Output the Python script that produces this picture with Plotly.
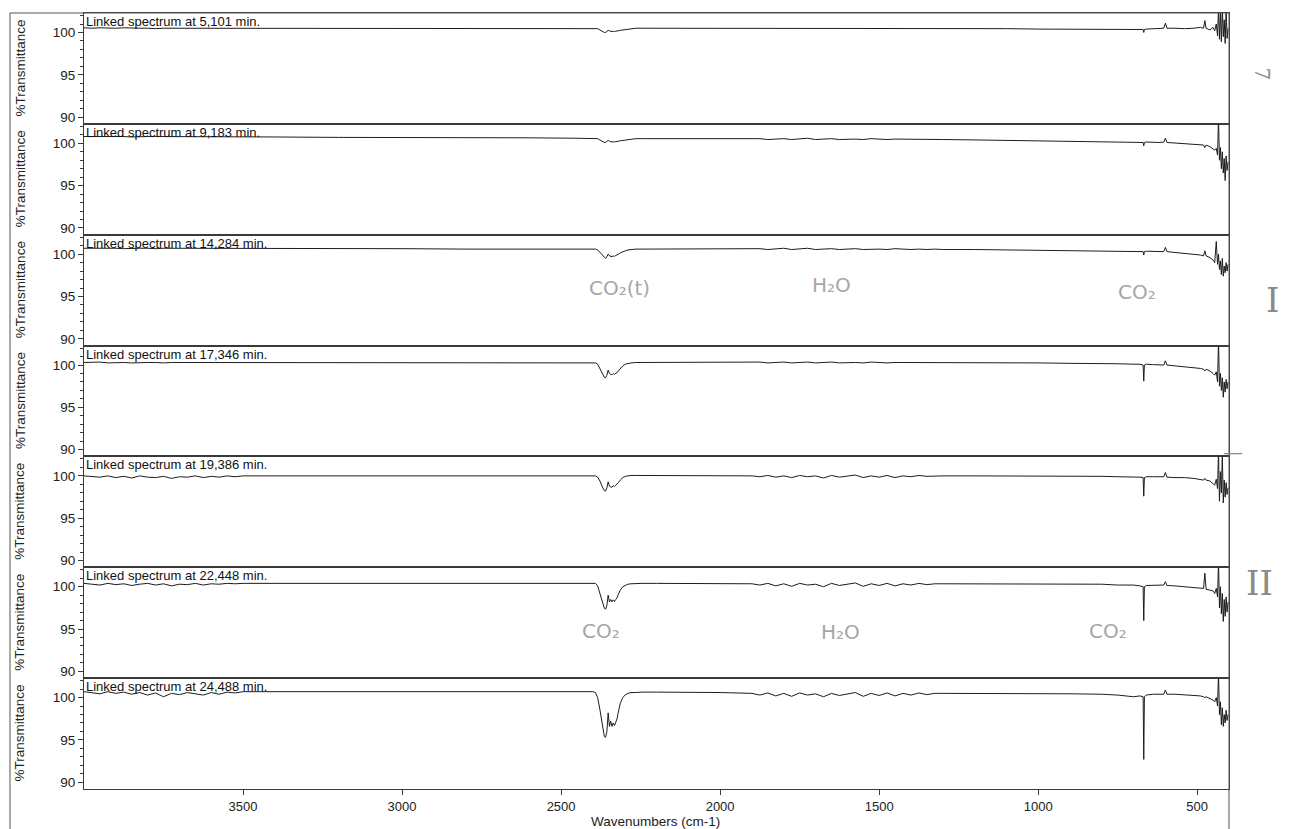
import plotly.graph_objects as go
from plotly.subplots import make_subplots

# ---------------- data ----------------
wavenumbers = [
    4000, 3975, 3950, 3925, 3900, 3875, 3850, 3825, 3800, 3775, 3750, 3725, 3700, 3675, 3650, 3625, 3600, 3575, 3550, 3525, 3500,
    3400, 3200, 3000, 2800, 2600, 2450, 2400,
    2392, 2385, 2378, 2370, 2364, 2360, 2356, 2352, 2348, 2344, 2340, 2336, 2332, 2328, 2324, 2320, 2314, 2306, 2298, 2290, 2280, 2265, 2245,
    2200, 2100, 2000, 1950,
    1900, 1875, 1850, 1825, 1800, 1775, 1750, 1725, 1700, 1675, 1650, 1625, 1600, 1575, 1550, 1525, 1500, 1475, 1450, 1425, 1400, 1375, 1350, 1325, 1300,
    1200, 1100, 1000, 900, 800, 750, 700, 680, 670, 668, 666, 660, 640, 620, 605, 600, 595, 570, 540, 510, 490, 480, 476, 472, 460, 450,
    445, 440, 436, 433, 430, 427, 424, 421, 418, 415, 412, 409, 406, 403,
]

spectrum_5_101 = [
    100.55, 100.5, 100.55, 100.5, 100.5, 100.55, 100.5, 100.5, 100.5, 100.45, 100.5, 100.5, 100.5, 100.5, 100.45, 100.5, 100.5, 100.5, 100.5, 100.5, 100.5,
    100.5, 100.5, 100.5, 100.5, 100.5, 100.5, 100.5,
    100.5, 100.45, 100.3, 100.1, 100.0, 100.0, 100.1, 100.25, 100.2, 100.15, 100.1, 100.15, 100.1, 100.15, 100.15, 100.2, 100.25, 100.3, 100.35, 100.4, 100.45, 100.5, 100.5,
    100.5, 100.5, 100.5, 100.5,
    100.5, 100.53, 100.5, 100.47, 100.53, 100.5, 100.47, 100.53, 100.5, 100.47, 100.53, 100.5, 100.47, 100.5, 100.53, 100.47, 100.5, 100.47, 100.53, 100.5, 100.47, 100.5, 100.5, 100.47, 100.5,
    100.45, 100.45, 100.4, 100.4, 100.4, 100.4, 100.4, 100.4, 100.35, 100.0, 100.35, 100.4, 100.45, 100.45, 100.5, 101.1, 100.5, 100.5, 100.45, 100.5, 100.6, 100.5, 101.4, 100.5, 100.3, 100.6,
    100.2, 101.0, 99.6, 103.0, 99.2, 102.5, 98.9, 103.0, 99.5, 101.5, 98.7, 102.8, 99.3, 100.5,
]

spectrum_9_183 = [
    100.8, 100.8, 100.85, 100.8, 100.8, 100.8, 100.75, 100.8, 100.8, 100.8, 100.8, 100.75, 100.8, 100.8, 100.8, 100.75, 100.8, 100.8, 100.75, 100.75, 100.75,
    100.75, 100.7, 100.7, 100.65, 100.65, 100.6, 100.6,
    100.6, 100.55, 100.4, 100.2, 100.1, 100.1, 100.2, 100.35, 100.25, 100.2, 100.15, 100.2, 100.15, 100.2, 100.2, 100.25, 100.3, 100.35, 100.4, 100.45, 100.5, 100.55, 100.55,
    100.55, 100.55, 100.5, 100.5,
    100.5, 100.55, 100.45, 100.5, 100.55, 100.45, 100.5, 100.6, 100.45, 100.5, 100.55, 100.45, 100.5, 100.5, 100.45, 100.55, 100.5, 100.45, 100.5, 100.5, 100.45, 100.5, 100.45, 100.45, 100.45,
    100.4, 100.35, 100.3, 100.25, 100.2, 100.2, 100.15, 100.15, 100.1, 99.7, 100.1, 100.15, 100.1, 100.1, 100.15, 100.6, 100.1, 100.05, 100.0, 99.9, 99.85, 99.8, 99.5, 99.8, 99.6, 99.4,
    99.2, 99.4, 98.6, 103.0, 98.0, 99.5, 97.0, 99.0, 96.5, 98.2, 95.6, 98.5, 96.8, 97.8,
]

spectrum_14_284 = [
    100.7, 100.7, 100.75, 100.7, 100.7, 100.65, 100.7, 100.7, 100.7, 100.65, 100.7, 100.7, 100.65, 100.7, 100.7, 100.7, 100.65, 100.7, 100.7, 100.7, 100.7,
    100.7, 100.65, 100.65, 100.6, 100.6, 100.6, 100.6,
    100.6, 100.5, 100.2, 99.8, 99.55, 99.5, 99.7, 100.0, 99.8, 99.75, 99.7, 99.8, 99.75, 99.85, 99.9, 100.0, 100.15, 100.3, 100.4, 100.5, 100.55, 100.6, 100.6,
    100.6, 100.6, 100.6, 100.6,
    100.6, 100.65, 100.55, 100.6, 100.7, 100.55, 100.6, 100.7, 100.55, 100.6, 100.65, 100.55, 100.6, 100.65, 100.55, 100.6, 100.6, 100.55, 100.65, 100.6, 100.55, 100.6, 100.55, 100.6, 100.55,
    100.55, 100.5, 100.5, 100.45, 100.4, 100.4, 100.35, 100.35, 100.3, 99.9, 100.3, 100.35, 100.3, 100.3, 100.3, 100.8, 100.3, 100.2, 100.1, 100.0, 99.9, 99.8, 100.4, 99.8, 99.6, 99.3,
    99.0, 101.5, 98.8, 100.0, 98.2, 99.2, 97.6, 99.5, 97.4, 98.6, 97.8, 99.0, 98.0, 98.8,
]

spectrum_17_346 = [
    100.3, 100.3, 100.35, 100.25, 100.3, 100.3, 100.25, 100.3, 100.3, 100.3, 100.25, 100.3, 100.3, 100.3, 100.25, 100.3, 100.3, 100.3, 100.3, 100.3, 100.3,
    100.3, 100.3, 100.3, 100.3, 100.3, 100.3, 100.3,
    100.25, 100.1, 99.6, 98.9, 98.55, 98.5, 98.8, 99.4, 99.0, 98.9, 98.85, 99.0, 98.9, 99.05, 99.1, 99.3, 99.6, 99.9, 100.1, 100.2, 100.25, 100.3, 100.3,
    100.3, 100.3, 100.3, 100.3,
    100.3, 100.35, 100.25, 100.3, 100.35, 100.25, 100.3, 100.35, 100.25, 100.3, 100.35, 100.25, 100.3, 100.3, 100.25, 100.35, 100.3, 100.25, 100.3, 100.3, 100.25, 100.3, 100.25, 100.3, 100.3,
    100.3, 100.3, 100.25, 100.2, 100.2, 100.15, 100.1, 100.1, 100.0, 98.1, 100.0, 100.1, 100.05, 100.0, 100.0, 100.5, 100.0, 99.9, 99.8, 99.7, 99.6, 99.5, 99.3, 99.5, 99.3, 99.0,
    98.8, 99.2, 98.0, 103.0, 97.5, 99.0, 97.0, 98.5, 96.2, 98.0, 96.8, 98.3, 97.2, 98.0,
]

spectrum_19_386 = [
    100.0, 99.95, 99.85, 100.0, 99.8, 99.95, 99.75, 100.0, 99.85, 99.8, 99.95, 99.7, 99.9, 99.85, 100.0, 99.8, 99.95, 99.85, 100.0, 99.9, 100.0,
    100.0, 100.0, 100.05, 100.05, 100.05, 100.05, 100.05,
    100.0, 99.85, 99.4, 98.7, 98.25, 98.2, 98.6, 99.3, 98.8, 98.7, 98.65, 98.85, 98.75, 98.9, 99.0, 99.2, 99.5, 99.8, 99.95, 100.0, 100.05, 100.05, 100.05,
    100.05, 100.05, 100.05, 100.0,
    100.0, 99.9, 100.05, 99.85, 100.0, 99.8, 100.05, 99.9, 100.0, 99.75, 100.05, 99.85, 99.95, 100.1, 99.8, 100.0, 99.85, 100.05, 99.8, 100.0, 99.9, 100.05, 99.95, 100.0, 100.0,
    100.0, 100.0, 100.0, 99.95, 99.95, 99.9, 99.9, 99.85, 99.8, 97.6, 99.8, 99.9, 99.9, 99.85, 99.9, 100.4, 99.85, 99.8, 99.8, 99.7, 99.6, 99.5, 99.7, 99.5, 99.4, 99.1,
    98.9, 99.6, 98.5, 103.0, 97.0, 100.5, 98.0, 102.5, 96.8, 99.5, 97.5, 99.2, 97.8, 98.6,
]

spectrum_22_448 = [
    100.4, 100.3, 100.2, 100.4, 100.25, 100.35, 100.15, 100.3, 100.4, 100.2, 100.35, 100.1, 100.3, 100.25, 100.4, 100.2, 100.35, 100.3, 100.4, 100.35, 100.4,
    100.4, 100.4, 100.45, 100.45, 100.45, 100.45, 100.45,
    100.4, 100.1, 99.2, 98.0, 97.45, 97.35, 97.8, 99.0, 98.2, 98.5, 98.2, 98.45, 98.25, 98.5, 98.7, 99.1, 99.6, 100.0, 100.2, 100.3, 100.35, 100.4, 100.4,
    100.4, 100.4, 100.4, 100.35,
    100.35, 100.2, 100.4, 100.1, 100.35, 100.05, 100.4, 100.2, 100.3, 100.0, 100.4, 100.15, 100.3, 100.45, 100.05, 100.35, 100.15, 100.4, 100.1, 100.35, 100.2, 100.4, 100.25, 100.35, 100.35,
    100.35, 100.35, 100.35, 100.3, 100.3, 100.2, 100.2, 100.1, 100.0, 96.0, 100.0, 100.15, 100.2, 100.2, 100.2, 100.6, 100.15, 100.1, 100.0, 99.9, 99.85, 99.8, 101.6, 99.7, 99.6, 99.5,
    99.2, 99.8, 98.8, 103.0, 97.5, 100.0, 96.8, 99.2, 95.9, 98.5, 96.5, 98.8, 97.0, 98.2,
]

spectrum_24_488 = [
    100.7, 100.6, 100.45, 100.7, 100.5, 100.65, 100.4, 100.6, 100.3, 100.55, 100.1, 100.5, 100.35, 100.6, 100.45, 100.3, 100.6, 100.4, 100.65, 100.55, 100.7,
    100.7, 100.7, 100.7, 100.7, 100.7, 100.7, 100.7,
    100.6, 100.0, 98.6, 96.6, 95.4, 95.3, 96.0, 98.2, 96.6, 97.2, 96.6, 97.0, 96.7, 97.1, 97.5, 98.3, 99.3, 100.0, 100.35, 100.5, 100.6, 100.6, 100.65,
    100.65, 100.65, 100.6, 100.55,
    100.5, 100.3, 100.55, 100.2, 100.5, 100.15, 100.55, 100.3, 100.45, 100.1, 100.5, 100.25, 100.45, 100.6, 100.15, 100.5, 100.25, 100.55, 100.2, 100.5, 100.3, 100.55, 100.35, 100.5, 100.5,
    100.5, 100.5, 100.45, 100.45, 100.4, 100.3, 100.1, 100.2, 100.1, 92.7, 100.1, 100.3, 100.4, 100.45, 100.4, 100.9, 100.4, 100.4, 100.35, 100.3, 100.2, 100.1, 100.0, 100.1, 99.9, 99.7,
    99.5, 100.0, 99.0, 103.0, 98.0, 99.5, 96.8, 98.8, 96.6, 98.0, 97.0, 98.5, 97.3, 98.0,
]

spectra = [spectrum_5_101, spectrum_9_183, spectrum_14_284, spectrum_17_346,
           spectrum_19_386, spectrum_22_448, spectrum_24_488]
time_labels = ["5,101", "9,183", "14,284", "17,346", "19,386", "22,448", "24,488"]
y_ticks = [90, 95, 100]
x_ticks = [3500, 3000, 2500, 2000, 1500, 1000, 500]

for s in spectra:
    assert len(s) == len(wavenumbers), len(s)

# ---------------- figure ----------------
n = len(spectra)
fig = make_subplots(rows=n, cols=1, shared_xaxes=True, vertical_spacing=0)

INK = "#1c1c1c"
AX = "#3a3a3a"
FONT = "Liberation Sans, Arial, sans-serif"

for i, (lab, ys) in enumerate(zip(time_labels, spectra)):
    fig.add_trace(go.Scatter(x=wavenumbers, y=ys, mode="lines",
                             line=dict(color=INK, width=1), hoverinfo="skip"),
                  row=i + 1, col=1)
    ydom = "y domain" if i == 0 else f"y{i+1} domain"
    xdom = "x domain" if i == 0 else f"x{i+1} domain"
    fig.add_annotation(text=f"Linked spectrum at {lab} min.", xref=xdom, yref=ydom,
                       x=0.0, y=1.0, xanchor="left", yanchor="top", showarrow=False,
                       xshift=0, yshift=1, font=dict(size=13, color="#111", family=FONT))
    fig.add_annotation(text="%Transmittance", xref="paper", yref=ydom,
                       x=(20 - 84) / 1145, y=0.5, textangle=-90, showarrow=False,
                       xanchor="center", yanchor="middle",
                       font=dict(size=13.5, color="#222", family=FONT))

fig.update_yaxes(range=[89.2, 102.3], tickvals=y_ticks, ticks="outside", ticklen=5,
                 tickcolor=AX, minor=dict(dtick=1, tick0=90, ticks="outside", ticklen=3, tickcolor=AX),
                 showline=True, mirror=True, linecolor=AX, linewidth=1,
                 showgrid=False, zeroline=False,
                 tickfont=dict(size=13.5, color="#222", family=FONT))
fig.update_xaxes(range=[4000, 400], tickvals=x_ticks, ticks="",
                 showline=True, mirror=True, linecolor=AX, linewidth=1,
                 showgrid=False, zeroline=False,
                 tickfont=dict(size=13, color="#222", family=FONT))
fig.update_xaxes(ticks="outside", ticklen=5, tickcolor=AX, row=n, col=1)

fig.add_annotation(text="Wavenumbers (cm-1)", xref="paper", yref="paper",
                   x=(655 - 84) / 1145, y=(789 - 821) / 776, xanchor="center", yanchor="middle",
                   showarrow=False, font=dict(size=13.5, color="#222", family=FONT))

# outer frame of the printout
fig.add_shape(type="rect", xref="paper", yref="paper",
              x0=(10 - 84) / 1145, x1=1.0, y0=-0.2, y1=1.0,
              line=dict(color="#555", width=1))

# pencil notes on the printout
PENCIL = "#a6a6a6"
HAND = "DejaVu Sans, sans-serif"
notes = [
    ("CO₂(t)", 2316, 96.0, 3), ("H₂O", 1650, 96.4, 3), ("CO₂", 690, 95.5, 3),
    ("CO₂", 2375, 94.8, 6), ("H₂O", 1620, 94.6, 6), ("CO₂", 780, 94.8, 6),
]
for txt, xv, yv, row in notes:
    fig.add_annotation(text=txt, x=xv, y=yv, xref=f"x{row}", yref=f"y{row}",
                       showarrow=False, font=dict(size=20, color=PENCIL, family=HAND))
side = [("7", 1275, 65, 90, 20), ("I", 1281, 300, 0, 34), ("II", 1275, 605, 0, 34),
        ("—", 1245, 452, 0, 20)]
for txt, px, py, ang, sz in side:
    fig.add_annotation(text=txt, xref="paper", yref="paper",
                       x=(px - 84) / 1145, y=(789 - py) / 776, textangle=ang,
                       showarrow=False, font=dict(size=sz, color="#8a8a8a", family="DejaVu Serif, serif"))

fig.update_layout(width=1305, height=829, margin=dict(l=84, r=76, t=13, b=40, autoexpand=False),
                  paper_bgcolor="white", plot_bgcolor="white", showlegend=False,
                  font=dict(family=FONT))

fig.write_html("out.html", config={"displayModeBar": False},
               post_script="document.body.style.margin='0';document.body.style.overflow='hidden';")
